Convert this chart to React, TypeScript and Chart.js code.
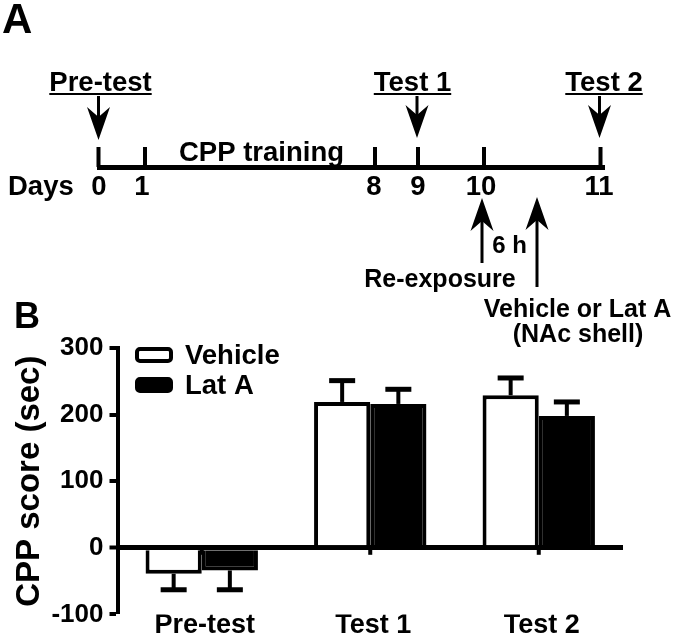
import React, { useEffect, useRef } from 'react';
import { Chart, registerables } from 'chart.js';

Chart.register(...registerables);

// ---- data ----
const categories = ['Pre-test', 'Test 1', 'Test 2'];
const seriesNames = ['Vehicle', 'Lat A'];
const vehicleMeans = [-39, 219, 229];
const latAMeans = [-34, 216, 198];
const vehicleSem = [24, 32, 26];
const latASem = [29, 22, 21];
const yTicks = [-100, 0, 100, 200, 300];
const yTitle = 'CPP score (sec)';

// timeline (panel A) texts
const dayLabels = ['0', '1', '8', '9', '10', '11'];
const testLabels = ['Pre-test', 'Test 1', 'Test 2'];

const FONT = '"Liberation Sans", Arial, Helvetica, sans-serif';
const bold = (s: number) => `bold ${s}px ${FONT}`;

function arrow(ctx: CanvasRenderingContext2D, x: number, tail: number, tip: number) {
  const dir = tip > tail ? 1 : -1; // 1 = pointing down
  const headLen = 33;
  const notch = 10;
  const hw = 11.5;
  const barbY = tip - dir * headLen;
  const notchY = barbY + dir * notch;
  ctx.lineWidth = 3;
  ctx.beginPath();
  ctx.moveTo(x, tail);
  ctx.lineTo(x, notchY);
  ctx.stroke();
  ctx.beginPath();
  ctx.moveTo(x, tip);
  ctx.lineTo(x - hw, barbY);
  ctx.lineTo(x, notchY);
  ctx.lineTo(x + hw, barbY);
  ctx.closePath();
  ctx.fill();
}

const panelAPlugin = {
  id: 'panelA',
  afterDraw(chart: any) {
    const ctx: CanvasRenderingContext2D = chart.ctx;
    ctx.save();
    ctx.fillStyle = '#000';
    ctx.strokeStyle = '#000';
    ctx.textBaseline = 'alphabetic';

    // panel letters
    ctx.textAlign = 'left';
    ctx.font = bold(42);
    ctx.fillText('A', 2, 33);
    ctx.font = bold(36);
    ctx.fillText('B', 14, 328);

    // test labels with underline and down arrows
    const testX = [100.5, 412.5, 604];
    const arrowX = [98.5, 417, 599.5];
    const tipY = [140, 138, 138];
    ctx.font = bold(27.5);
    ctx.textAlign = 'center';
    testLabels.forEach((t, i) => {
      ctx.fillText(t, testX[i], 91);
      const w = ctx.measureText(t).width;
      ctx.fillRect(testX[i] - w / 2, 93, w, 2);
      arrow(ctx, arrowX[i], 96, tipY[i]);
    });

    // timeline line and ticks
    ctx.fillRect(97, 165, 508, 5);
    const tickX = [98.5, 145, 375, 418, 484, 600.5];
    tickX.forEach((x) => ctx.fillRect(x - 2, 147, 4, 20));

    // CPP training
    ctx.font = bold(27.5);
    ctx.textAlign = 'center';
    ctx.fillText('CPP training', 261.5, 161);

    // Days + numbers
    ctx.textAlign = 'left';
    ctx.fillText('Days', 8, 195);
    ctx.textAlign = 'center';
    const dayX = [99, 142, 374, 418, 481, 599];
    dayLabels.forEach((d, i) => ctx.fillText(d, dayX[i], 195));

    // up arrows
    arrow(ctx, 482, 263, 198);
    arrow(ctx, 537, 287, 197);

    ctx.font = bold(24);
    ctx.fillText('6 h', 509.5, 253);
    ctx.font = bold(25);
    ctx.fillText('Re-exposure', 440, 287);
    ctx.fillText('Vehicle or Lat A', 577.5, 316.5);
    ctx.fillText('(NAc shell)', 578, 342);

    ctx.restore();
  },
};

const errorBarPlugin = {
  id: 'errorBars',
  afterDatasetsDraw(chart: any) {
    const ctx: CanvasRenderingContext2D = chart.ctx;
    const y = chart.scales.y;
    const x = chart.scales.x;
    ctx.save();
    ctx.fillStyle = '#000';
    ctx.strokeStyle = '#000';
    chart.data.datasets.forEach((ds: any, i: number) => {
      const meta = chart.getDatasetMeta(i);
      meta.data.forEach((bar: any, j: number) => {
        const v = ds.data[j];
        const e = ds.errors[j];
        const y0 = y.getPixelForValue(v);
        const y1 = y.getPixelForValue(v >= 0 ? v + e : v - e);
        ctx.lineWidth = 4;
        ctx.beginPath();
        ctx.moveTo(bar.x, y0);
        ctx.lineTo(bar.x, y1);
        ctx.stroke();
        ctx.fillRect(bar.x - 13, y1 - 2.5, 26, 5);
      });
    });
    // small category ticks under the zero line
    const z = y.getPixelForValue(0);
    categories.forEach((_, i) => {
      const px = x.getPixelForValue(i);
      ctx.fillRect(px - 2, z, 4, 7);
    });
    ctx.restore();
  },
};

const legendPlugin = {
  id: 'customLegend',
  afterDraw(chart: any) {
    const ctx: CanvasRenderingContext2D = chart.ctx;
    ctx.save();
    const tops = [347, 377];
    chart.data.datasets.forEach((ds: any, i: number) => {
      const bx = 135, bw = 38, bh = 16;
      const by = tops[i];
      ctx.beginPath();
      (ctx as any).roundRect(bx + 2, by + 2, bw - 4, bh - 4, 3);
      ctx.fillStyle = ds.backgroundColor;
      ctx.fill();
      ctx.lineWidth = 4;
      ctx.strokeStyle = '#000';
      ctx.stroke();
      ctx.fillStyle = '#000';
      ctx.font = bold(27.5);
      ctx.textAlign = 'left';
      ctx.textBaseline = 'middle';
      ctx.fillText(ds.label, 185, by + bh / 2 + 1);
    });
    ctx.restore();
  },
};

export default function App() {
  const ref = useRef<HTMLCanvasElement>(null);
  useEffect(() => {
    Chart.defaults.font.family = FONT;
    const chart = new Chart(ref.current as HTMLCanvasElement, {
      type: 'bar',
      data: {
        labels: categories,
        datasets: [
          {
            label: seriesNames[0],
            data: vehicleMeans,
            errors: vehicleSem,
            backgroundColor: '#ffffff',
            borderColor: '#000000',
            borderWidth: 4,
            categoryPercentage: 0.667,
            barPercentage: 1,
          } as any,
          {
            label: seriesNames[1],
            data: latAMeans,
            errors: latASem,
            backgroundColor: '#000000',
            borderColor: '#000000',
            borderWidth: 4,
            categoryPercentage: 0.667,
            barPercentage: 1,
          } as any,
        ],
      },
      options: {
        responsive: false,
        maintainAspectRatio: false,
        animation: false,
        events: [],
        layout: { padding: { top: 348, right: 52, bottom: 0, left: 0 } },
        plugins: {
          legend: { display: false },
          tooltip: { enabled: false },
        },
        scales: {
          x: {
            type: 'category',
            grid: { display: false },
            border: { display: false },
            ticks: {
              color: '#000',
              padding: 0,
              labelOffset: 3,
              font: { size: 27, weight: 'bold', lineHeight: 0.2 },
            },
            afterFit: (s: any) => {
              s.height = 19;
            },
          },
          y: {
            min: -100,
            max: 300,
            afterBuildTicks: (s: any) => {
              s.ticks = yTicks.map((v) => ({ value: v }));
            },
            border: { display: true, color: '#000', width: 4 },
            grid: {
              drawOnChartArea: true,
              drawTicks: true,
              tickLength: 8,
              tickWidth: 4,
              tickColor: '#000',
              color: (c: any) => (c.tick && c.tick.value === 0 ? '#000' : 'rgba(0,0,0,0)'),
              lineWidth: (c: any) => (c.tick && c.tick.value === 0 ? 5 : 0),
            },
            ticks: {
              color: '#000',
              padding: 6,
              font: { size: 26, weight: 'bold' },
              callback: (v: any) => String(v),
            },
            title: {
              display: true,
              text: yTitle,
              color: '#000',
              font: { size: 33, weight: 'bold' },
              padding: { top: 10, bottom: 0 },
            },
            afterFit: (s: any) => {
              s.width = 117.5;
            },
          },
        },
      } as any,
      plugins: [panelAPlugin, errorBarPlugin, legendPlugin],
    });
    return () => chart.destroy();
  }, []);
  return (
    <div style={{ position: 'absolute', left: 0, top: 0, width: 675, height: 636, background: '#fff' }}>
      <canvas ref={ref} width={675} height={636} style={{ display: 'block' }} />
    </div>
  );
}
